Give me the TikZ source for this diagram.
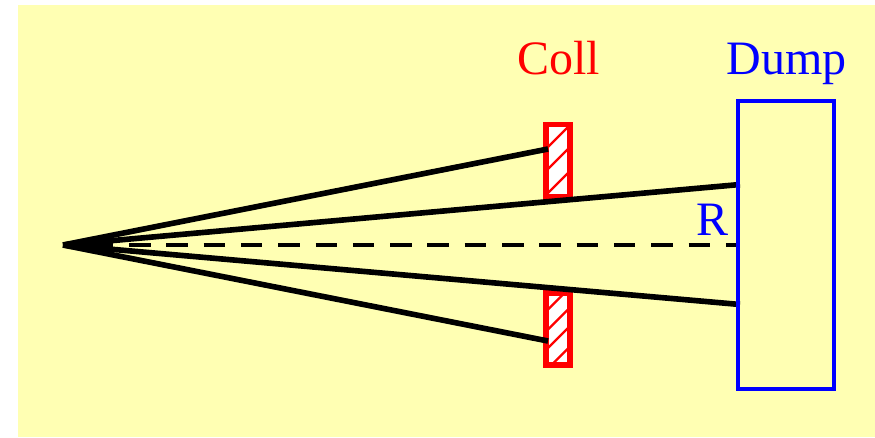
\documentclass[tikz,border=0pt]{standalone}
\usepackage{fontspec}
\setmainfont{Liberation Serif}
\definecolor{paleyellow}{HTML}{FFFFB3}
\tikzset{
	ray/.style={line width=3.2pt, black},
	collbox/.style={line width=3.2pt, red},
	hatchline/.style={line width=1.3pt, red},
	label/.style={inner sep=0pt, anchor=base, font=\fontsize{27.3}{30}\selectfont}
}
\begin{document}
\begin{tikzpicture}
	\useasboundingbox (0,0) rectangle (17.5,8.74);
	\fill[paleyellow] (0.36,0) rectangle (17.5,8.64);% background

	%	Upper collimator
	\fill[white] (10.92,4.80) rectangle (11.40,6.25);
	\begin{scope}
		\clip (10.92,4.80) rectangle (11.40,6.25);
		\foreach \y in {6.00,5.56,5.08,4.60}
			\draw[hatchline] (10.76,\y-0.4) -- (11.56,\y+0.4);
	\end{scope}
	\draw[collbox] (10.92,4.80) rectangle (11.40,6.25);

	%	Lower collimator
	\fill[white] (10.92,1.44) rectangle (11.40,2.88);
	\begin{scope}
		\clip (10.92,1.44) rectangle (11.40,2.88);
		\foreach \y in {2.75,2.35,1.98,1.57}
			\draw[hatchline] (10.76,\y-0.4) -- (11.56,\y+0.4);
	\end{scope}
	\draw[collbox] (10.92,1.44) rectangle (11.40,2.88);

	%	Rays from the source
	\coordinate (source) at (1.26,3.84);
	\coordinate (collup) at (10.96,5.76);
	\coordinate (colldown) at (10.96,1.92);
	\coordinate (dumpup) at (14.80,5.05);
	\coordinate (dumpdown) at (14.80,2.65);
	\coordinate (dumpmid) at (14.76,3.84);
	\draw[ray] (source) -- (collup);
	\draw[ray] (source) -- (dumpup);
	\draw[ray] (source) -- (dumpdown);
	\draw[ray] (source) -- (colldown);
	\draw[line width=1.8pt, dash pattern=on 0.43cm off 0.316cm, dash phase=0.172cm] (source) -- (dumpmid);

	%	Dump
	\draw[line width=2.5pt, blue] (14.76,0.96) rectangle (16.68,6.72);

	%	Labels
	\node[label, red] (coll) at (11.17,7.24) {Coll};
	\node[label, blue] (dump) at (15.73,7.24) {Dump};
	\node[label, blue] (radius) at (14.24,4.04) {R};
\end{tikzpicture}
\end{document}
